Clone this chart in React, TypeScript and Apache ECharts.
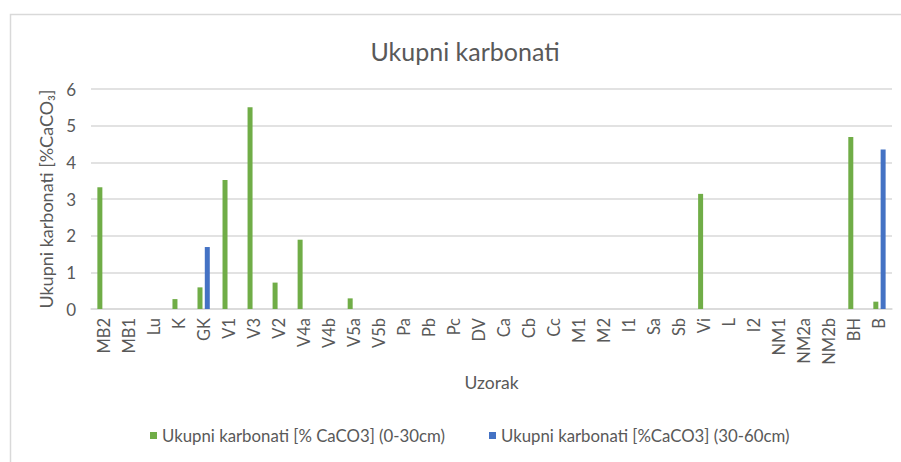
import React, { useEffect, useRef } from "react";
import * as echarts from "echarts";

const categories = ["MB2","MB1","Lu","K","GK","V1","V3","V2","V4a","V4b","V5a","V5b","Pa","Pb","Pc","DV","Ca","Cb","Cc","M1","M2","I1","Sa","Sb","Vi","L","I2","NM1","NM2a","NM2b","BH","B"];
const series0to30 = [3.32,0,0,0.27,0.59,3.52,5.5,0.72,1.89,0,0.29,0,0,0,0,0,0,0,0,0,0,0,0,0,3.14,0,0,0,0,0,4.69,0.2];
const series30to60 = [0,0,0,0,1.69,0,0,0,0,0,0,0,0,0,0,0,0,0,0,0,0,0,0,0,0,0,0,0,0,0,0,4.35];
const seriesNames = ["Ukupni karbonati [% CaCO3] (0-30cm)", "Ukupni karbonati [%CaCO3] (30-60cm)"];
const yTicks = [0, 6, 1];

const FONT = "Lato, 'Open Sans', sans-serif";
const TXT = "#595959";

export default function App() {
  const ref = useRef<HTMLDivElement>(null);
  useEffect(() => {
    if (!ref.current) return;
    const chart = echarts.init(ref.current, null, { renderer: "svg" });
    chart.setOption({
      animation: false,
      backgroundColor: "#ffffff",
      textStyle: { fontFamily: FONT },
      title: {
        text: "Ukupni karbonati",
        left: 460,
        top: 33,
        textAlign: "center",
        textStyle: { fontFamily: FONT, fontSize: 25, fontWeight: "normal", color: TXT },
      },
      graphic: [
        {
          type: "rect",
          shape: { x: 10.5, y: 14.5, width: 1000, height: 1000 },
          style: { fill: "none", stroke: "#d9d9d9", lineWidth: 1.5 },
          silent: true,
        },
      ],
      legend: {
        bottom: 13,
        left: 145,
        itemWidth: 7,
        itemHeight: 7,
        itemGap: 44,
        icon: "rect",
        textStyle: { fontFamily: FONT, fontSize: 16.8, color: TXT },
      },
      grid: { left: 91, right: 9, top: 89, bottom: 153, containLabel: false },
      xAxis: {
        type: "category",
        data: categories,
        name: "Uzorak",
        nameLocation: "middle",
        nameGap: 64,
        nameTextStyle: { fontFamily: FONT, fontSize: 17.5, color: TXT },
        axisLine: { lineStyle: { color: "#d9d9d9", width: 1.5 } },
        axisTick: { show: false },
        axisLabel: { rotate: 90, interval: 0, margin: 9, fontFamily: FONT, fontSize: 16.5, color: TXT },
      },
      yAxis: {
        type: "value",
        min: yTicks[0],
        max: yTicks[1],
        interval: yTicks[2],
        name: "Ukupni karbonati [%CaCO\u2083]",
        nameLocation: "middle",
        nameGap: 35,
        nameTextStyle: { fontFamily: FONT, fontSize: 18, color: TXT },
        axisLine: { show: false },
        axisTick: { show: false },
        axisLabel: { margin: 15, fontFamily: FONT, fontSize: 17, color: TXT },
        splitLine: { lineStyle: { color: "#d9d9d9", width: 1.5 } },
      },
      series: [
        {
          name: seriesNames[0],
          type: "bar",
          data: series0to30,
          barWidth: 5,
          barGap: "46%",
          itemStyle: { color: "#70AD47" },
        },
        {
          name: seriesNames[1],
          type: "bar",
          data: series30to60,
          barWidth: 5,
          itemStyle: { color: "#4472C4" },
        },
      ],
    });
    return () => chart.dispose();
  }, []);
  return <div ref={ref} style={{ position: "fixed", left: 0, top: 0, width: 901, height: 462 }} />;
}
